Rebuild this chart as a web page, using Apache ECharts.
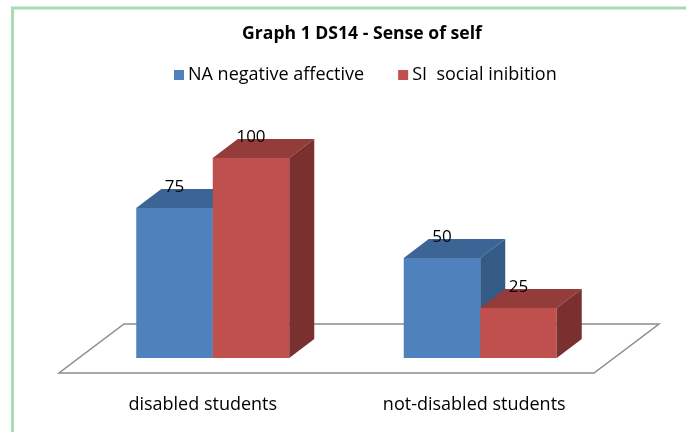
<!DOCTYPE html>
<html>
<head>
<meta charset="utf-8">
<script src="https://cdn.jsdelivr.net/npm/echarts@6/dist/echarts.min.js"></script>
<style>
html,body{margin:0;padding:0;background:#fff;}
#chart{width:686px;height:432px;}
</style>
</head>
<body>
<div id="chart"></div>
<script>
// ---- data ----
var titleText = 'Graph 1 DS14 - Sense of self';
var categories = ['disabled students', 'not-disabled students'];
var seriesNames = ['NA negative affective', 'SI  social inibition'];
var naValues = [75, 50];
var siValues = [100, 25];

// ---- style ----
var FONT = 'Open Sans';
var faces = [
  {front: '#4f81bd', top: '#3c6494', side: '#345a86'},
  {front: '#c0504d', top: '#933c3a', side: '#7a302f'}
];
var DX = 25, DY = -19;      // bar depth vector
var BAR_FRAC = 0.286;       // bar width as fraction of category band

function makeBarRender(idx) {
  var c = faces[idx];
  return function (params, api) {
    var cat = api.value(0), val = api.value(1);
    var base = api.coord([cat, 0]);
    var topPt = api.coord([cat, val]);
    var band = api.size([1, 0])[0];
    var w = band * BAR_FRAC;
    var x0 = idx === 0 ? base[0] - w : base[0];
    var x1 = x0 + w;
    var yb = base[1], yt = topPt[1];
    return {
      type: 'group',
      children: [
        {type: 'rect', shape: {x: x0, y: yt, width: w, height: yb - yt}, style: {fill: c.front}},
        {type: 'polygon', shape: {points: [[x0, yt], [x1, yt], [x1 + DX, yt + DY], [x0 + DX, yt + DY]]}, style: {fill: c.top}},
        {type: 'polygon', shape: {points: [[x1, yt], [x1 + DX, yt + DY], [x1 + DX, yb + DY], [x1, yb]]}, style: {fill: c.side}},
        {type: 'text', style: {text: String(val), x: (x0 + x1) / 2, y: yt + DY - 2, textAlign: 'center', textVerticalAlign: 'middle', fill: '#000', font: '17px "' + FONT + '"'}}
      ]
    };
  };
}

function floorRender(params, api) {
  var cs = params.coordSys;
  var y0 = cs.y + cs.height;
  var fy = y0 + 15, by = y0 - 34;
  var fdx = -20, bdx = 45;
  return {
    type: 'polygon',
    shape: {points: [[cs.x + fdx, fy], [cs.x + cs.width + fdx, fy], [cs.x + cs.width + bdx, by], [cs.x + bdx, by]]},
    style: {fill: '#ffffff', stroke: '#8c8c8c', lineWidth: 1.5}
  };
}

var chart = echarts.init(document.getElementById('chart'), null, {renderer: 'canvas'});
chart.setOption({
  backgroundColor: '#ffffff',
  animation: false,
  title: {
    text: titleText,
    left: 357, top: 20, textAlign: 'center',
    textStyle: {fontFamily: FONT, fontWeight: 'bold', fontSize: 17.6, color: '#000'}
  },
  legend: {
    data: seriesNames,
    left: 174, top: 66, padding: 0,
    itemWidth: 10, itemHeight: 10, itemGap: 34,
    icon: 'rect',
    textStyle: {fontFamily: FONT, fontSize: 18, color: '#000', padding: [0, 0, 0, -1]}
  },
  grid: {left: 79, right: 72, top: 158, bottom: 74},
  xAxis: {
    type: 'category', data: categories,
    axisLine: {show: false}, axisTick: {show: false}, splitLine: {show: false},
    axisLabel: {
      interval: 0, hideOverlap: false,
      margin: 38, fontFamily: FONT, fontSize: 18, color: '#000',
      formatter: function (v, i) { return '{a' + i + '|' + v + '}'; },
      rich: {
        a0: {fontFamily: FONT, fontSize: 18, color: '#000', padding: [0, 20, 0, 0]},
        a1: {fontFamily: FONT, fontSize: 18, color: '#000', padding: [0, 12, 0, 0]}
      }
    }
  },
  yAxis: {type: 'value', min: 0, max: 100, show: false},
  graphic: [{
    type: 'rect', z: -10, silent: true,
    shape: {x: 12.5, y: 8, width: 720, height: 480},
    style: {fill: 'none', stroke: '#a9dcb2', lineWidth: 3}
  }],
  series: [
    {type: 'custom', name: '_floor', renderItem: floorRender, data: [[0, 0]], clip: false, z: 1, silent: true},
    {type: 'custom', name: seriesNames[0], renderItem: makeBarRender(0), data: naValues.map(function (v, i) { return [i, v]; }), clip: false, z: 2, itemStyle: {color: faces[0].front}, encode: {x: 0, y: 1}},
    {type: 'custom', name: seriesNames[1], renderItem: makeBarRender(1), data: siValues.map(function (v, i) { return [i, v]; }), clip: false, z: 3, itemStyle: {color: faces[1].front}, encode: {x: 0, y: 1}}
  ]
});
</script>
</body>
</html>
